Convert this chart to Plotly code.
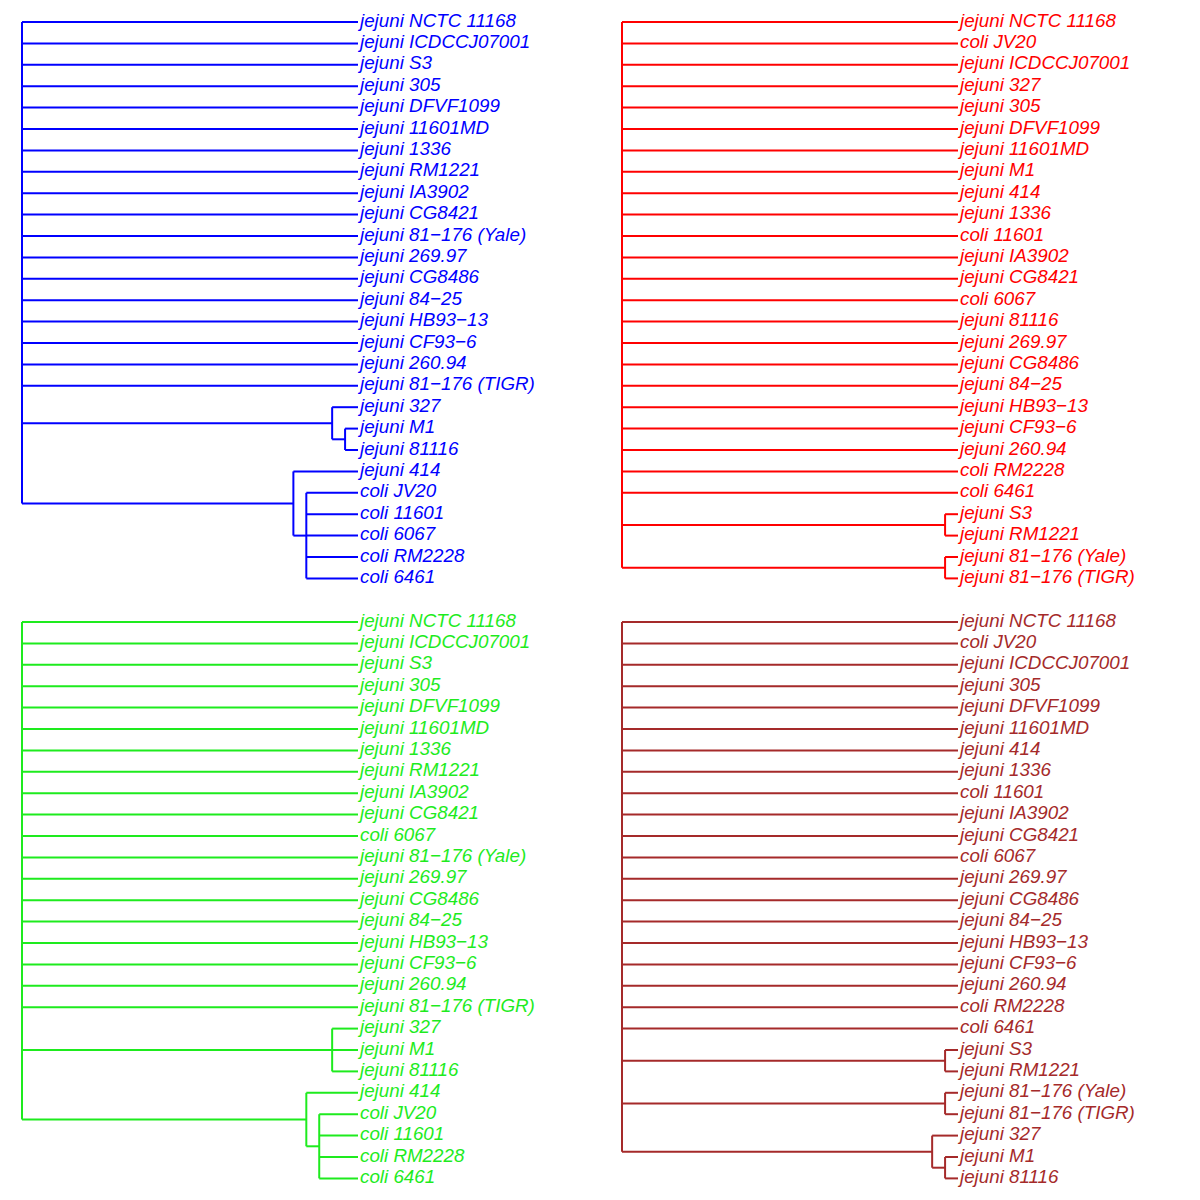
import plotly.graph_objects as go
from plotly.subplots import make_subplots

M = "\u2212"  # minus sign used in strain names

# ---- Tree topologies (nested lists; strings are tips, lists are clades) ----
tree_blue = [
    "jejuni NCTC 11168", "jejuni ICDCCJ07001", "jejuni S3", "jejuni 305",
    "jejuni DFVF1099", "jejuni 11601MD", "jejuni 1336", "jejuni RM1221",
    "jejuni IA3902", "jejuni CG8421", f"jejuni 81{M}176 (Yale)", "jejuni 269.97",
    "jejuni CG8486", f"jejuni 84{M}25", f"jejuni HB93{M}13", f"jejuni CF93{M}6",
    "jejuni 260.94", f"jejuni 81{M}176 (TIGR)",
    ["jejuni 327", ["jejuni M1", "jejuni 81116"]],
    ["jejuni 414", ["coli JV20", "coli 11601", "coli 6067", "coli RM2228", "coli 6461"]],
]

tree_red = [
    "jejuni NCTC 11168", "coli JV20", "jejuni ICDCCJ07001", "jejuni 327",
    "jejuni 305", "jejuni DFVF1099", "jejuni 11601MD", "jejuni M1", "jejuni 414",
    "jejuni 1336", "coli 11601", "jejuni IA3902", "jejuni CG8421", "coli 6067",
    "jejuni 81116", "jejuni 269.97", "jejuni CG8486", f"jejuni 84{M}25",
    f"jejuni HB93{M}13", f"jejuni CF93{M}6", "jejuni 260.94", "coli RM2228",
    "coli 6461",
    ["jejuni S3", "jejuni RM1221"],
    [f"jejuni 81{M}176 (Yale)", f"jejuni 81{M}176 (TIGR)"],
]

tree_green = [
    "jejuni NCTC 11168", "jejuni ICDCCJ07001", "jejuni S3", "jejuni 305",
    "jejuni DFVF1099", "jejuni 11601MD", "jejuni 1336", "jejuni RM1221",
    "jejuni IA3902", "jejuni CG8421", "coli 6067", f"jejuni 81{M}176 (Yale)",
    "jejuni 269.97", "jejuni CG8486", f"jejuni 84{M}25", f"jejuni HB93{M}13",
    f"jejuni CF93{M}6", "jejuni 260.94", f"jejuni 81{M}176 (TIGR)",
    ["jejuni 327", "jejuni M1", "jejuni 81116"],
    ["jejuni 414", ["coli JV20", "coli 11601", "coli RM2228", "coli 6461"]],
]

tree_brown = [
    "jejuni NCTC 11168", "coli JV20", "jejuni ICDCCJ07001", "jejuni 305",
    "jejuni DFVF1099", "jejuni 11601MD", "jejuni 414", "jejuni 1336",
    "coli 11601", "jejuni IA3902", "jejuni CG8421", "coli 6067",
    "jejuni 269.97", "jejuni CG8486", f"jejuni 84{M}25", f"jejuni HB93{M}13",
    f"jejuni CF93{M}6", "jejuni 260.94", "coli RM2228", "coli 6461",
    ["jejuni S3", "jejuni RM1221"],
    [f"jejuni 81{M}176 (Yale)", f"jejuni 81{M}176 (TIGR)"],
    ["jejuni 327", ["jejuni M1", "jejuni 81116"]],
]

trees = [tree_blue, tree_red, tree_green, tree_brown]
colors = ["#0000FF", "#FF0000", "#1EEB1E", "#A52A2A"]
positions = [(1, 1), (1, 2), (2, 1), (2, 2)]

# pixel geometry (page has an 8px body margin): root at 14px, tips at 350px
# within each 600px panel; first tip 14px from panel top; tip spacing 21.4px
unit = 336 / 26
off = 14
label_pad = 2 / unit  # small gap between branch tip and label


def count_tips(node):
    if isinstance(node, str):
        return 1
    return sum(count_tips(c) for c in node)


def layout_tree(tree):
    """Cladogram layout (ape-style, node depth = number of descendant tips)."""
    ntot = count_tips(tree)
    tips, tip_y = [], []
    xs, ys = [], []

    def rec(node):
        if isinstance(node, str):
            tips.append(node)
            y = len(tips)
            tip_y.append(y)
            return ntot - 1, y
        kids = [rec(c) for c in node]
        x = ntot - count_tips(node)
        y = (kids[0][1] + kids[-1][1]) / 2
        xs.extend([x, x, None])
        ys.extend([kids[0][1], kids[-1][1], None])
        for kx, ky in kids:
            xs.extend([x, kx, None])
            ys.extend([ky, ky, None])
        return x, y

    rec(tree)
    return xs, ys, tips, tip_y, ntot


fig = make_subplots(rows=2, cols=2, horizontal_spacing=0, vertical_spacing=0)

for tree, col, (r, c) in zip(trees, colors, positions):
    xs, ys, tips, tip_y, ntot = layout_tree(tree)
    fig.add_trace(go.Scatter(x=xs, y=ys, mode="lines",
                             line=dict(color=col, width=2),
                             hoverinfo="skip", showlegend=False), row=r, col=c)
    fig.add_trace(go.Scatter(x=[ntot - 1 + label_pad] * len(tips), y=tip_y, mode="text",
                             text=tips, textposition="middle right",
                             textfont=dict(family="Liberation Sans, Arial, sans-serif",
                                           size=18.8, color=col, style="italic"),
                             hoverinfo="skip", showlegend=False), row=r, col=c)

fig.update_xaxes(range=[-off / unit, (600 - off) / unit], visible=False, fixedrange=True)
fig.update_yaxes(range=[1 + (600 - off) / 21.4, 1 - off / 21.4], visible=False, fixedrange=True)

fig.update_layout(width=1200, height=1200, margin=dict(l=0, r=0, t=0, b=0),
                  plot_bgcolor="white", paper_bgcolor="white")

fig.write_html("out.html")
